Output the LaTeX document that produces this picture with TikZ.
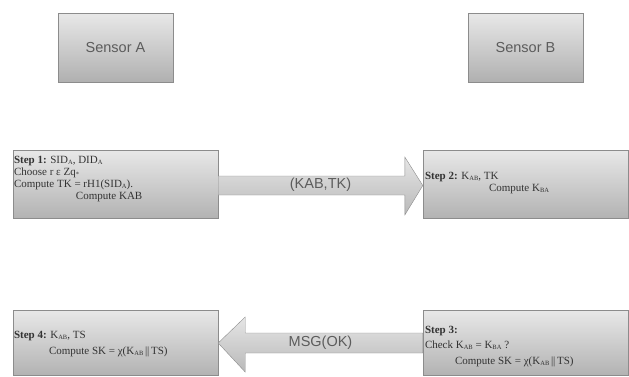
\documentclass[tikz,border=0pt]{standalone}
\usepackage{fontspec}
\setmainfont{Liberation Serif}
\setsansfont{Liberation Sans}
\usetikzlibrary{positioning}
\definecolor{edgegray}{gray}{0.55}
\definecolor{inkgray}{gray}{0.2}
\tikzstyle{sensor}=[draw=edgegray,top color=gray!18,bottom color=gray!62,rectangle,minimum width=115pt,minimum height=69pt,font=\sffamily\fontsize{14.5}{17}\selectfont,text=inkgray!80!white]
\tikzstyle{stepbox}=[draw=edgegray,top color=gray!18,bottom color=gray!60,rectangle,minimum width=205pt,minimum height=68pt]
\tikzstyle{steptext}=[inner sep=0pt,align=left,anchor=north west,text=inkgray,font=\fontsize{11}{12}\selectfont]
\tikzstyle{bigarrow}=[draw=edgegray,top color=gray!20,bottom color=gray!55]
\tikzstyle{msg}=[font=\sffamily\fontsize{14.5}{17}\selectfont,text=inkgray!80!white]
\newcommand{\sub}[1]{\raisebox{-0.15ex}{\fontsize{6.5}{6.5}\selectfont #1}}
\newcommand{\dbar}{\,|\kern-0.4pt|\,}

\begin{document}
\begin{tikzpicture}[node distance=410pt]
    \useasboundingbox (0pt,0pt) rectangle (629pt,-376pt);
    \node[sensor] (sa) at (115.5pt,-47.5pt) {Sensor A};
    \node[sensor, right of=sa] (sb) {Sensor B};
    \node[stepbox, below of=sa, node distance=136.5pt] (s1) {};
    \node[stepbox, right of=s1] (s2) {};
    \node[stepbox, below of=s1, node distance=158.5pt, minimum height=65pt] (s4) {};
    \node[stepbox, right of=s4, minimum height=65pt] (s3) {};
    \node[steptext] (t1) at ([shift={(1pt,-6pt)}]s1.north west) {\textbf{Step 1:} SID\sub{A}, DID\sub{A}\\
        Choose r ε Zq\sub{*}\\
        Compute TK = rH1(SID\sub{A}).\\
        \hspace*{62pt}Compute KAB};
    \node[steptext] (t2) at ([shift={(2pt,-22pt)}]s2.north west) {\textbf{Step 2:} K\sub{AB}, TK\\
        \hspace*{64pt}Compute K\sub{BA}};
    \node[steptext, font=\fontsize{11}{15.5}\selectfont] (t3) at ([shift={(2pt,-16pt)}]s3.north west) {\textbf{Step 3:}\\
        Check K\sub{AB} = K\sub{BA} ?\\
        \hspace*{30pt}Compute SK = χ(K\sub{AB}\dbar TS)};
    \node[steptext, font=\fontsize{11}{16}\selectfont] (t4) at ([shift={(1pt,-21pt)}]s4.north west) {\textbf{Step 4:} K\sub{AB}, TS\\
        \hspace*{35pt}Compute SK = χ(K\sub{AB}\dbar TS)};
    \draw[bigarrow] ([yshift=8pt]s1.east) -- ([shift={(-18pt,8pt)}]s2.west)
        -- ([shift={(-18pt,27pt)}]s2.west) -- ([yshift=-1.5pt]s2.west)
        -- ([shift={(-18pt,-31pt)}]s2.west) -- ([shift={(-18pt,-11pt)}]s2.west)
        -- ([yshift=-11pt]s1.east) -- cycle;
    \draw[bigarrow] ([yshift=9.5pt]s3.west) -- ([shift={(27pt,9.5pt)}]s4.east)
        -- ([shift={(27pt,25.5pt)}]s4.east) -- ([yshift=-0.5pt]s4.east)
        -- ([shift={(27pt,-29.5pt)}]s4.east) -- ([shift={(27pt,-10.5pt)}]s4.east)
        -- ([yshift=-10.5pt]s3.west) -- cycle;
    \path (s1.east) -- (s2.west) node[msg, midway, yshift=-1pt] (m1) {(KAB,TK)};
    \path (s4.east) -- (s3.west) node[msg, midway, yshift=-0.5pt] (m2) {MSG(OK)};
\end{tikzpicture}
\end{document}
